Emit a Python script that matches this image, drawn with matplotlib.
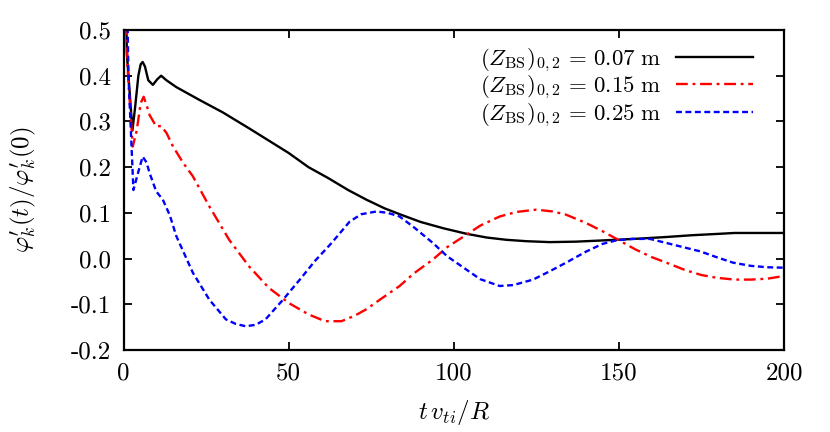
import matplotlib
matplotlib.use("Agg")
import matplotlib.pyplot as plt
import numpy as np

plt.rcParams["mathtext.fontset"] = "cm"
plt.rcParams["font.family"] = ["cmr10", "DejaVu Serif"]
plt.rcParams["axes.unicode_minus"] = False
plt.rcParams["axes.formatter.use_mathtext"] = True

# (Z_BS)_{0,2} = 0.07 m
t_a = [0, 1, 2.7, 3.5, 4.5, 5.2, 5.8, 6.5, 7.5, 8.9, 10.2, 11.4, 13, 16, 23, 30,
       38, 44, 50, 56, 62, 68, 73.5, 79, 84, 90, 97, 104, 110, 116, 122, 129,
       137, 143, 149, 157, 164, 172, 180, 185, 192, 200]
y_a = [1.0, 0.45, 0.28, 0.33, 0.40, 0.425, 0.43, 0.42, 0.39, 0.38, 0.392, 0.40,
       0.39, 0.375, 0.347, 0.32, 0.285, 0.258, 0.231, 0.20, 0.176, 0.15, 0.129,
       0.11, 0.096, 0.08, 0.066, 0.054, 0.046, 0.041, 0.038, 0.036, 0.037,
       0.039, 0.041, 0.044, 0.047, 0.051, 0.054, 0.056, 0.056, 0.056]

# (Z_BS)_{0,2} = 0.15 m
t_b = [0, 1.2, 2.8, 4, 5.2, 6.1, 7, 7.9, 9.9, 11.4, 13, 15, 18, 21, 26, 32, 38,
       44, 50, 56, 61, 66, 70, 73.5, 78, 83.6, 88, 93.7, 98, 103.8, 108, 113.9,
       119, 125, 130, 134, 140, 145, 149.3, 155, 160, 164.4, 170, 175, 179.6,
       185, 190, 195, 200]
y_b = [1.0, 0.42, 0.245, 0.28, 0.34, 0.354, 0.335, 0.314, 0.289, 0.29, 0.275,
       0.245, 0.21, 0.18, 0.114, 0.041, -0.017, -0.064, -0.097, -0.122,
       -0.137, -0.137, -0.125, -0.111, -0.088, -0.060, -0.032, -0.002, 0.025,
       0.052, 0.072, 0.092, 0.102, 0.107, 0.103, 0.096, 0.078, 0.06, 0.043,
       0.02, 0.003, -0.009, -0.025, -0.036, -0.042, -0.046, -0.046, -0.044,
       -0.038]

# (Z_BS)_{0,2} = 0.25 m
t_c = [0, 1.5, 3, 4.5, 5.8, 7, 7.9, 9.9, 11.9, 14, 16, 21, 26, 31, 34, 37, 40,
       43, 48.3, 53.5, 58, 63, 68.5, 72, 76.6, 80, 83.6, 88, 93.7, 98, 103.8,
       108, 113.9, 118, 124, 129, 134, 140, 145, 149.3, 154, 159.4, 165, 170,
       174.5, 180, 184.6, 190, 195, 200]
y_c = [1.0, 0.4, 0.15, 0.19, 0.223, 0.21, 0.187, 0.147, 0.129, 0.095, 0.049,
       -0.031, -0.09, -0.133, -0.143, -0.148, -0.145, -0.133, -0.09, -0.045,
       -0.005, 0.034, 0.081, 0.097, 0.103, 0.100, 0.092, 0.068, 0.034, 0.005,
       -0.024, -0.045, -0.060, -0.058, -0.046, -0.028, -0.009, 0.015, 0.032,
       0.040, 0.043, 0.043, 0.033, 0.024, 0.016, 0.002, -0.009, -0.016, -0.019,
       -0.020]

labels = [r"$(Z_{\mathrm{BS}})_{0,2}\,=\,0.07\ \mathrm{m}$",
          r"$(Z_{\mathrm{BS}})_{0,2}\,=\,0.15\ \mathrm{m}$",
          r"$(Z_{\mathrm{BS}})_{0,2}\,=\,0.25\ \mathrm{m}$"]

xticks = [0, 50, 100, 150, 200]
yticks = [-0.2, -0.1, 0.0, 0.1, 0.2, 0.3, 0.4, 0.5]
ytick_labels = ["-0.2", "-0.1", "0.0", "0.1", "0.2", "0.3", "0.4", "0.5"]

fig = plt.figure(figsize=(8.3, 4.32), dpi=100)
ax = fig.add_axes([0.1488, 0.1898, 0.7958, 0.7408])

ax.plot(t_a, y_a, color="black", lw=1.7, label=labels[0])
ax.plot(t_b, y_b, color="red", lw=1.7, dashes=(5, 2, 1.2, 2), label=labels[1])
ax.plot(t_c, y_c, color="blue", lw=1.7, dashes=(2.5, 1.5), label=labels[2])

ax.set_xlim(0, 200)
ax.set_ylim(-0.2, 0.5)
ax.set_xticks(xticks)
ax.set_xticklabels([str(v) for v in xticks])
ax.set_yticks(yticks)
ax.set_yticklabels(ytick_labels)
ax.tick_params(direction="in", length=6, width=1.3, top=True, right=True,
               labelsize=18, pad=9)
for s in ax.spines.values():
    s.set_linewidth(1.6)

ax.set_xlabel(r"$t\,v_{ti}/R$", fontsize=18)
ax.set_ylabel(r"$\varphi^{\prime}_{k}(t)/\varphi^{\prime}_{k}(0)$", fontsize=18)
ax.xaxis.set_label_coords(0.5, -0.15)
ax.yaxis.set_label_coords(-0.13, 0.5)

ax.legend(loc="upper right", bbox_to_anchor=(0.978, 1.0), frameon=False,
          markerfirst=False, fontsize=16.5, handlelength=3.4,
          labelspacing=0.0, handletextpad=0.6, borderaxespad=0.3)

fig.savefig("out.png", dpi=100)
